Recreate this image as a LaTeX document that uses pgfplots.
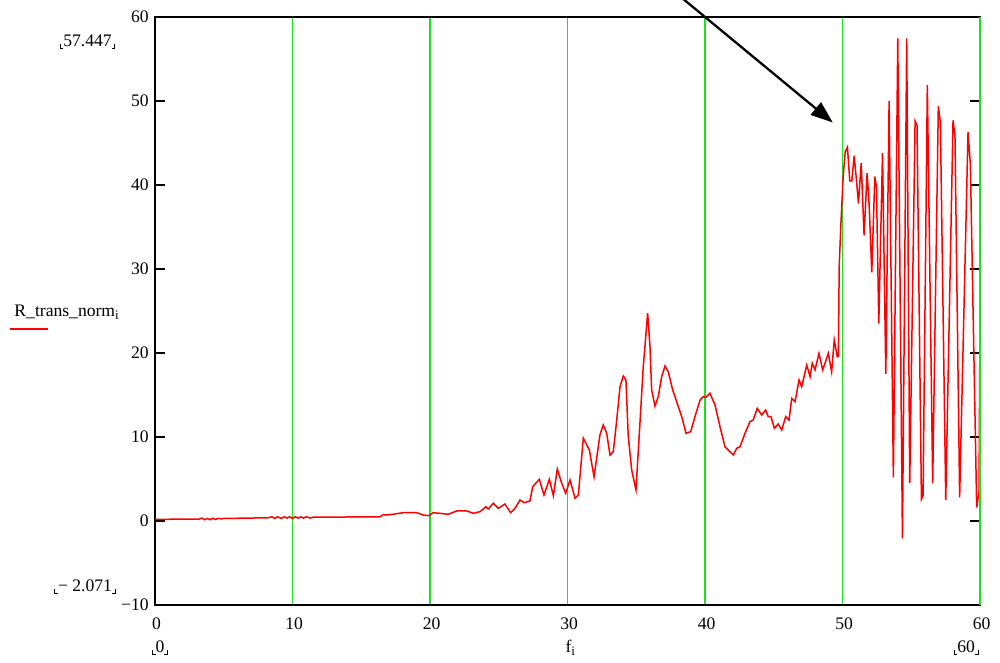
\documentclass[border=0pt]{standalone}
\usepackage{pgfplots}
\pgfplotsset{compat=1.18}
\usepackage{fontspec}
\setmainfont{Liberation Serif}
\usetikzlibrary{arrows.meta}
\definecolor{mcgreen}{RGB}{30,225,30}
\definecolor{mcred}{RGB}{255,0,0}
\newcommand\lc{\raisebox{-1pt}{\rlap{\rule{0.45pt}{2.2pt}}\rule{1.8pt}{0.45pt}}}
\newcommand\rc{\raisebox{-1pt}{\rule{1.8pt}{0.45pt}\llap{\rule{0.45pt}{2.2pt}}}}
\begin{document}
\fontsize{8.8}{10}\selectfont
\begin{tikzpicture}
\begin{axis}[
 scale only axis, width=412.5pt, height=294pt,
 xmin=0, xmax=60, ymin=-10, ymax=60,
 xtick={0,10,...,60}, ytick={-10,0,...,60},
 xticklabels={0,10,20,30,40,50,60},
 yticklabels={−10,0,10,20,30,40,50,60},
 tick align=inside, ytick pos=both, major tick length=5pt,
 xtick style={draw=none},
 ytick style={black, line width=0.6pt},
 xmajorgrids, grid style={mcgreen, line width=0.55pt},
 axis line style={black, line width=0.6pt},
 ticklabel style={font=\fontsize{8.8}{10}\selectfont},
 xticklabel style={yshift=-3.5pt, xshift=0.8pt},
 clip=false,
]
\addplot[mcred, line width=0.75pt, no marks] coordinates {
(0,0.2)(3.2,0.22)(3.4,0.35)(3.6,0.15)(3.8,0.3)(4.0,0.15)(4.2,0.32)(4.4,0.18)(4.6,0.32)(4.8,0.25)(5.0,0.3)
(8.2,0.38)(8.5,0.5)(8.7,0.3)(8.9,0.5)(9.2,0.3)(9.4,0.5)(9.6,0.35)(9.8,0.5)(10.0,0.3)(10.2,0.5)(10.4,0.35)(10.6,0.5)(10.8,0.35)(11.0,0.5)(11.3,0.35)(11.5,0.45)
(16.36,0.5)(16.6,0.75)(16.85,0.71)(17.3,0.8)(18.06,0.99)(19.03,0.99)(19.51,0.71)(19.93,0.63)(20.24,0.99)(21.33,0.80)(21.94,1.19)(22.67,1.19)(23.15,0.92)(23.64,1.11)
(24.07,1.70)(24.24,1.43)(24.60,2.11)(24.97,1.51)(25.45,2.02)(25.87,0.99)(26.18,1.51)(26.55,2.5)(26.84,2.18)(27.27,2.38)(27.47,4.08)(27.95,4.96)(28.29,3.10)(28.68,4.96)(28.97,3.01)
(29.26,6.19)(29.58,4.49)(29.87,3.30)(30.18,4.88)(30.55,2.70)(30.79,3.10)(31.15,9.85)(31.59,8.45)(31.93,5.27)
(32.36,10.24)(32.60,11.43)(32.85,10.44)(33.09,7.86)(33.33,8.25)(33.58,12.02)(33.82,15.99)(34.06,17.26)(34.25,16.79)(34.42,10.04)(34.67,6.07)(34.98,3.69)
(35.27,11.67)(35.51,18.37)(35.83,24.73)(36.0,20.75)(36.12,15.6)(36.36,13.69)(36.60,14.80)(36.85,17.18)(37.09,18.45)(37.33,17.77)(37.65,15.6)(38.06,13.61)
(38.31,12.42)(38.62,10.44)(38.96,10.63)(39.27,12.42)(39.64,14.40)(39.88,14.80)(40.07,14.73)(40.36,15.20)(40.73,13.81)(41.09,11.23)(41.45,8.85)(41.69,8.45)
(42.06,7.86)(42.31,8.65)(42.55,8.85)(42.91,10.44)(43.27,11.82)(43.51,12.02)(43.80,13.42)(44.12,12.62)(44.41,13.21)(44.60,12.42)(44.80,12.42)(45.04,11.04)
(45.33,11.55)(45.58,10.83)(45.87,12.42)(46.11,12.02)(46.31,14.6)(46.55,14.2)(46.84,16.79)(47.03,15.99)(47.40,18.57)(47.64,17.18)(47.80,18.77)(48.0,17.98)
(48.29,19.96)(48.56,17.98)(48.97,19.96)(49.21,17.77)(49.40,21.55)(49.62,19.56)(49.70,19.6)
(49.76,30.3)(49.88,35.2)(50.05,41.0)(50.19,43.9)(50.36,44.5)(50.53,40.5)(50.68,40.5)(50.85,43.5)(51.02,40.5)(51.16,37.8)(51.36,42.6)(51.57,34.0)
(51.79,41.4)(51.94,37.6)(52.13,29.6)(52.35,41.0)(52.47,39.8)(52.64,23.5)(52.91,43.8)(53.15,17.5)(53.39,50.0)(53.70,5.2)(54.02,57.45)(54.36,-2.07)
(54.67,57.45)(54.89,4.5)(55.28,47.6)(55.42,47.1)(55.74,2.6)(55.86,3.0)(56.17,51.9)(56.56,4.5)(56.97,49.4)(57.12,47.4)(57.51,2.5)(58.04,47.7)(58.18,45.9)
(58.52,2.8)(59.13,46.3)(59.30,42.5)(59.76,1.6)(59.93,3.5)(60,23.7)
};
\draw[mcgreen, line width=0.7pt] (axis cs:60,-10) -- (axis cs:60,60);
\draw[black, line width=1.15pt, -{Triangle[length=11pt,width=8pt]}] (axis cs:38.3,62.3) -- (axis cs:49.29,47.44);
\node[anchor=base] at (axis cs:-4.91,56.46) {\lc57.447\rc};
\node[anchor=base] at (axis cs:-5.09,-8.42) {\lc− 2.071\rc};
\node[anchor=base] at (axis cs:0.36,-15.7) {\lc0\rc};
\node[anchor=base] at (axis cs:59.0,-15.7) {\lc60\rc};
\node[anchor=base] at (axis cs:30.2,-15.7) {f\raisebox{-1.5pt}{\fontsize{6.5}{7}\selectfont i}};
\node[anchor=base west, inner sep=0pt] at (axis cs:-10.25,24.32) {R\_trans\_norm\raisebox{-1.5pt}{\fontsize{6.5}{7}\selectfont i}};
\draw[mcred, line width=0.6pt] (axis cs:-10.545,22.86) -- (axis cs:-7.78,22.86);
\coordinate (bbsw) at (axis cs:-11.273,-16.905);
\coordinate (bbne) at (axis cs:61.455,62.024);
\end{axis}
\pgfresetboundingbox
\path[use as bounding box] (bbsw) rectangle (bbne);
\end{tikzpicture}
\end{document}
